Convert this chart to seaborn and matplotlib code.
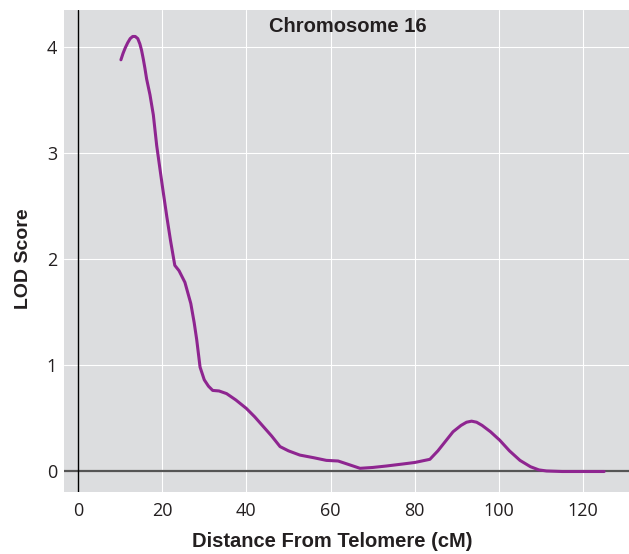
import numpy as np
import pandas as pd
import seaborn as sns
import matplotlib.pyplot as plt

# LOD score curve
distance = [10.2, 10.7, 11.2, 11.8, 12.4, 13.0, 13.6, 14.2, 14.7, 15.1, 15.5, 15.9, 16.3,
            17.1, 17.9, 18.7, 20.0, 21.1, 22.0, 23.0,
            24.0, 25.4, 26.8, 27.6, 28.2, 29.0, 30.0, 31.0, 32.0, 33.5, 35.3, 37.5,
            40.0, 42.0, 44.0, 46.0, 48.0, 50.0, 52.7, 56.0, 59.0, 61.8, 64.0, 67.0,
            70.0, 73.3, 77.0, 80.0, 83.6, 85.5, 87.5, 89.1, 91.0, 92.3, 93.5, 94.7, 96.0, 98.0,
            100.2, 102.5, 105.0, 107.5, 109.5, 111.3, 115.0, 120.0, 125.0]
lod = [3.88, 3.94, 3.99, 4.04, 4.08, 4.10, 4.10, 4.08, 4.03, 3.97, 3.89, 3.80, 3.70,
       3.55, 3.36, 3.07, 2.70, 2.40, 2.17, 1.94,
       1.89, 1.78, 1.58, 1.40, 1.24, 0.98, 0.86, 0.80, 0.76, 0.755, 0.73, 0.67,
       0.59, 0.51, 0.42, 0.33, 0.23, 0.19, 0.15, 0.125, 0.10, 0.094, 0.065, 0.025,
       0.033, 0.047, 0.065, 0.08, 0.11, 0.19, 0.29, 0.37, 0.43, 0.46, 0.47, 0.46, 0.43, 0.37,
       0.29, 0.19, 0.10, 0.04, 0.01, 0.0, -0.005, -0.005, -0.005]

x_ticks = [0, 20, 40, 60, 80, 100, 120]
y_ticks = [0, 1, 2, 3, 4]

df = pd.DataFrame({"Distance": distance, "LOD": lod})

sns.set_style("darkgrid", {"axes.facecolor": "#dcdddf", "grid.color": "white",
                           "grid.linewidth": 1.3})
plt.rcParams['font.family'] = ['Open Sans', 'DejaVu Sans']

fig = plt.figure(figsize=(6.29, 5.54), dpi=100)
ax = fig.add_axes([0.1017, 0.112, 0.8983, 0.870])

ax.axhline(0, color="#555555", lw=1.6, zorder=1)
ax.axvline(0, color="black", lw=1.0, zorder=1)
sns.lineplot(data=df, x="Distance", y="LOD", color="#8e2590", lw=2.2, ax=ax, zorder=3)

ax.set_xlim(-3.33, 130.9)
ax.set_ylim(-0.198, 4.35)
ax.set_xticks(x_ticks)
ax.set_yticks(y_ticks)
ax.tick_params(axis="both", labelsize=13, colors="#231f20", length=0)
ax.tick_params(axis="x", pad=7)
ax.tick_params(axis="y", pad=5)
for s in ax.spines.values():
    s.set_visible(False)

bold = dict(family=["Liberation Sans", "DejaVu Sans"], fontweight="bold", color="#231f20")
ax.set_xlabel("Distance From Telomere (cM)", fontsize=14.5, **bold)
ax.set_ylabel("LOD Score", fontsize=14, **bold)
ax.xaxis.set_label_coords(0.475, -0.084)
ax.yaxis.set_label_coords(-0.057, 0.483)
ax.text(0.502, 0.965, "Chromosome 16", transform=ax.transAxes, ha="center", va="center",
        fontsize=14.5, **bold)

fig.savefig("out.png", dpi=100)
